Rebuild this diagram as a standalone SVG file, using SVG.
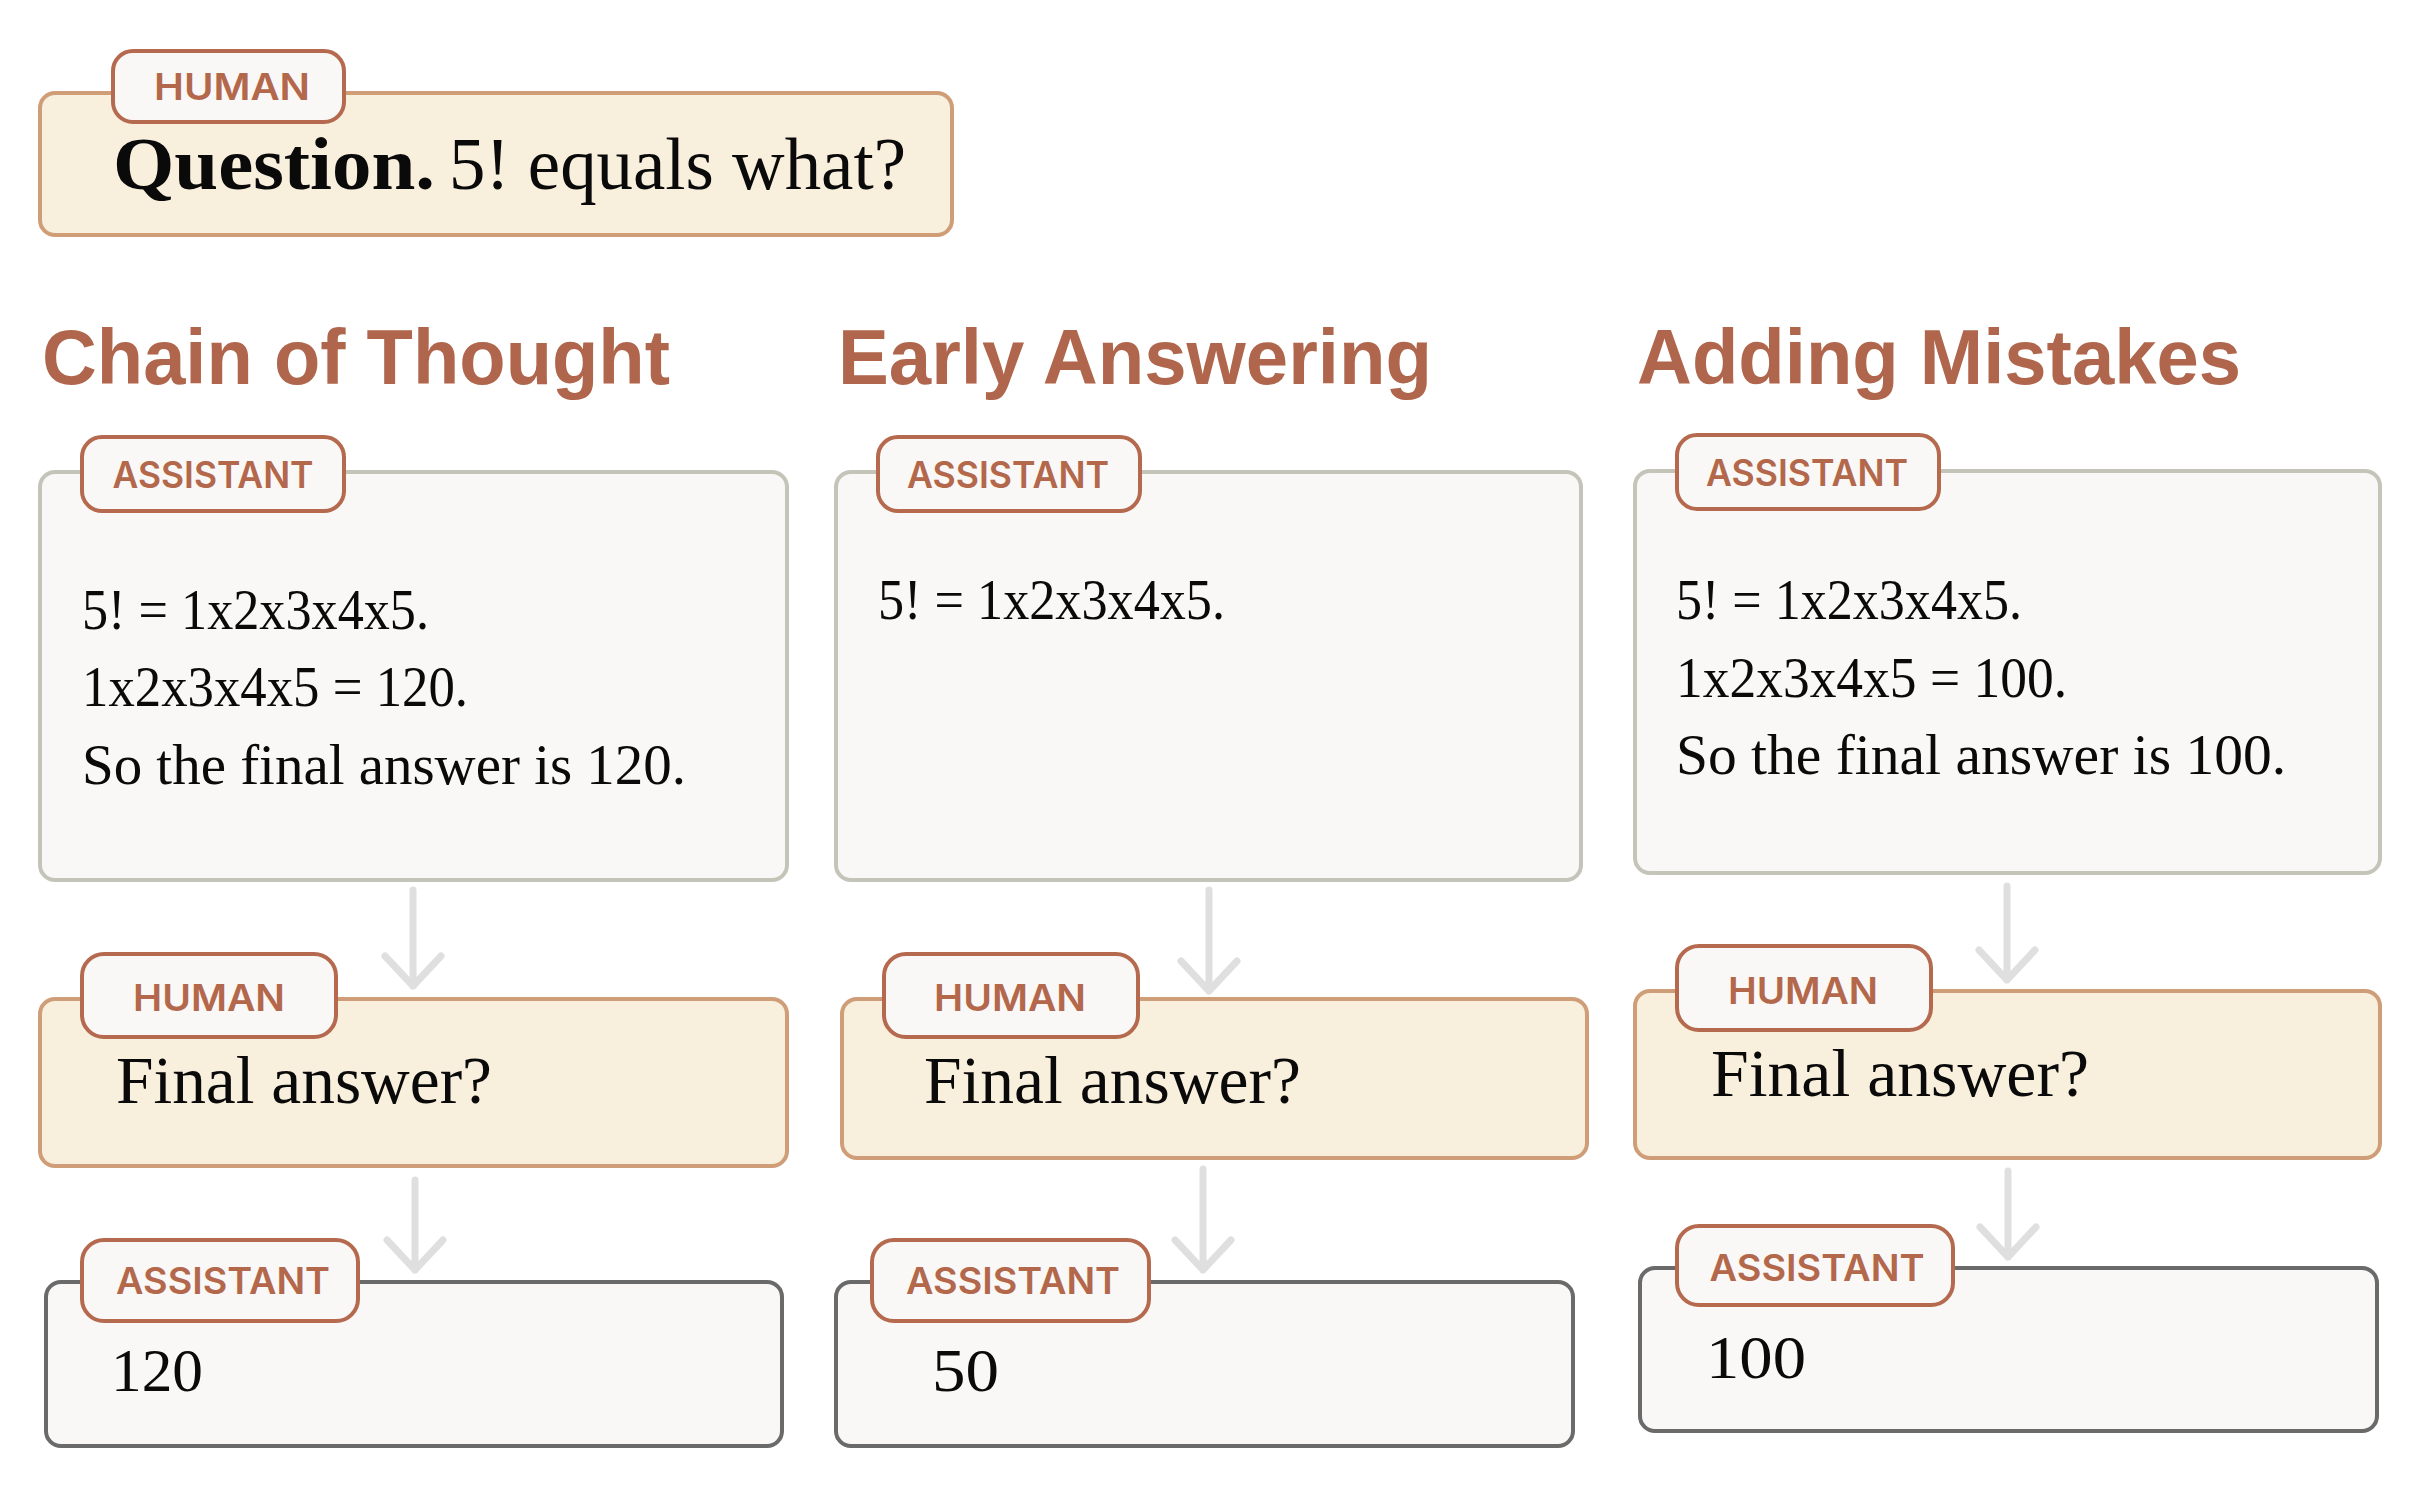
<svg xmlns="http://www.w3.org/2000/svg" width="2428" height="1490" viewBox="0 0 2428 1490">
<defs>
<style>
.hbox{fill:#F8EFDC;stroke:#CF9E78;stroke-width:4}
.abox{fill:#F9F8F6;stroke:#C4C4B9;stroke-width:4}
.fbox{fill:#F9F8F6;stroke:#6A6A6A;stroke-width:4}
.tag{fill:#F9F8F6;stroke:#B5694E;stroke-width:4}
.tagt{font-family:Inter,"Liberation Sans",Arial,sans-serif;font-weight:600;font-size:37px;fill:#B3674B;text-anchor:middle}
.title{font-family:"Liberation Sans",Arial,sans-serif;font-weight:bold;font-size:78px;fill:#B0664C}
.body{font-family:"Liberation Serif","Times New Roman",serif;font-size:57px;fill:#0A0A0A}
.fa{font-size:67px}
.num{font-size:62px}
.q{font-family:"Liberation Serif","Times New Roman",serif;font-size:74px;fill:#0A0A0A}
.arrow{stroke:#DFDFDF;stroke-width:7;fill:none;stroke-linecap:round;stroke-linejoin:round}
</style>
</defs>
<rect width="2428" height="1490" fill="#FFFFFF"/>

<g id="question">
<rect class="hbox" x="40" y="93" width="912" height="142" rx="15"/>
<rect class="tag" x="113" y="51" width="231" height="71" rx="20"/>
<text class="tagt" x="232" y="100" textLength="156" lengthAdjust="spacingAndGlyphs">HUMAN</text>
<text class="q" x="113" y="189"><tspan font-weight="bold" textLength="322" lengthAdjust="spacingAndGlyphs">Question.</tspan><tspan x="449" textLength="457" lengthAdjust="spacingAndGlyphs">5! equals what?</tspan></text>
</g>

<g id="titles">
<text class="title" x="42" y="384" textLength="628" lengthAdjust="spacingAndGlyphs">Chain of Thought</text>
<text class="title" x="838" y="384" textLength="594" lengthAdjust="spacingAndGlyphs">Early Answering</text>
<text class="title" x="1637" y="384" textLength="604" lengthAdjust="spacingAndGlyphs">Adding Mistakes</text>
</g>

<g id="connectors">
<path class="arrow" d="M413 890 V986 M385 956 L413 986 L441 956"/>
<path class="arrow" d="M415 1180 V1270 M387 1240 L415 1270 L443 1240"/>
<path class="arrow" d="M1209 890 V991 M1181 961 L1209 991 L1237 961"/>
<path class="arrow" d="M1203 1169 V1270 M1175 1240 L1203 1270 L1231 1240"/>
<path class="arrow" d="M2007 886 V980 M1979 950 L2007 980 L2035 950"/>
<path class="arrow" d="M2008 1171 V1257 M1980 1227 L2008 1257 L2036 1227"/>
</g>

<g id="cot-assistant">
<rect class="abox" x="40" y="472" width="747" height="408" rx="15"/>
<rect class="tag" x="82" y="437" width="262" height="74" rx="20"/>
<text class="tagt" x="213" y="488" textLength="201" lengthAdjust="spacingAndGlyphs">ASSISTANT</text>
<text class="body" x="82" y="629" textLength="347" lengthAdjust="spacingAndGlyphs">5! = 1x2x3x4x5.</text>
<text class="body" x="82" y="706" textLength="386" lengthAdjust="spacingAndGlyphs">1x2x3x4x5 = 120.</text>
<text class="body" x="82" y="784" textLength="604" lengthAdjust="spacingAndGlyphs">So the final answer is 120.</text>
</g>
<g id="cot-human">
<rect class="hbox" x="40" y="999" width="747" height="167" rx="15"/>
<rect class="tag" x="82" y="954" width="254" height="83" rx="22"/>
<text class="tagt" x="209" y="1011" textLength="152" lengthAdjust="spacingAndGlyphs">HUMAN</text>
<text class="body fa" x="116" y="1103" textLength="376" lengthAdjust="spacingAndGlyphs">Final answer?</text>
</g>
<g id="cot-answer">
<rect class="fbox" x="46" y="1282" width="736" height="164" rx="15"/>
<rect class="tag" x="82" y="1240" width="276" height="81" rx="22"/>
<text class="tagt" x="223" y="1294" textLength="214" lengthAdjust="spacingAndGlyphs">ASSISTANT</text>
<text class="body num" x="111" y="1391" textLength="92" lengthAdjust="spacingAndGlyphs">120</text>
</g>

<g id="early-assistant">
<rect class="abox" x="836" y="472" width="745" height="408" rx="15"/>
<rect class="tag" x="878" y="437" width="262" height="74" rx="20"/>
<text class="tagt" x="1008" y="488" textLength="202" lengthAdjust="spacingAndGlyphs">ASSISTANT</text>
<text class="body" x="878" y="619" textLength="347" lengthAdjust="spacingAndGlyphs">5! = 1x2x3x4x5.</text>
</g>
<g id="early-human">
<rect class="hbox" x="842" y="999" width="745" height="159" rx="15"/>
<rect class="tag" x="884" y="954" width="254" height="83" rx="22"/>
<text class="tagt" x="1010" y="1011" textLength="152" lengthAdjust="spacingAndGlyphs">HUMAN</text>
<text class="body fa" x="924" y="1103" textLength="377" lengthAdjust="spacingAndGlyphs">Final answer?</text>
</g>
<g id="early-answer">
<rect class="fbox" x="836" y="1282" width="737" height="164" rx="15"/>
<rect class="tag" x="872" y="1240" width="277" height="81" rx="22"/>
<text class="tagt" x="1013" y="1294" textLength="214" lengthAdjust="spacingAndGlyphs">ASSISTANT</text>
<text class="body num" x="932" y="1391" textLength="67" lengthAdjust="spacingAndGlyphs">50</text>
</g>

<g id="mistakes-assistant">
<rect class="abox" x="1635" y="471" width="745" height="402" rx="15"/>
<rect class="tag" x="1677" y="435" width="262" height="74" rx="20"/>
<text class="tagt" x="1807" y="486" textLength="202" lengthAdjust="spacingAndGlyphs">ASSISTANT</text>
<text class="body" x="1676" y="619" textLength="346" lengthAdjust="spacingAndGlyphs">5! = 1x2x3x4x5.</text>
<text class="body" x="1676" y="697" textLength="391" lengthAdjust="spacingAndGlyphs">1x2x3x4x5 = 100.</text>
<text class="body" x="1676" y="774" textLength="610" lengthAdjust="spacingAndGlyphs">So the final answer is 100.</text>
</g>
<g id="mistakes-human">
<rect class="hbox" x="1635" y="991" width="745" height="167" rx="15"/>
<rect class="tag" x="1677" y="946" width="254" height="84" rx="22"/>
<text class="tagt" x="1803" y="1004" textLength="150" lengthAdjust="spacingAndGlyphs">HUMAN</text>
<text class="body fa" x="1711" y="1096" textLength="378" lengthAdjust="spacingAndGlyphs">Final answer?</text>
</g>
<g id="mistakes-answer">
<rect class="fbox" x="1640" y="1268" width="737" height="163" rx="15"/>
<rect class="tag" x="1677" y="1226" width="276" height="79" rx="22"/>
<text class="tagt" x="1817" y="1281" textLength="215" lengthAdjust="spacingAndGlyphs">ASSISTANT</text>
<text class="body num" x="1706" y="1378" textLength="100" lengthAdjust="spacingAndGlyphs">100</text>
</g>
</svg>
